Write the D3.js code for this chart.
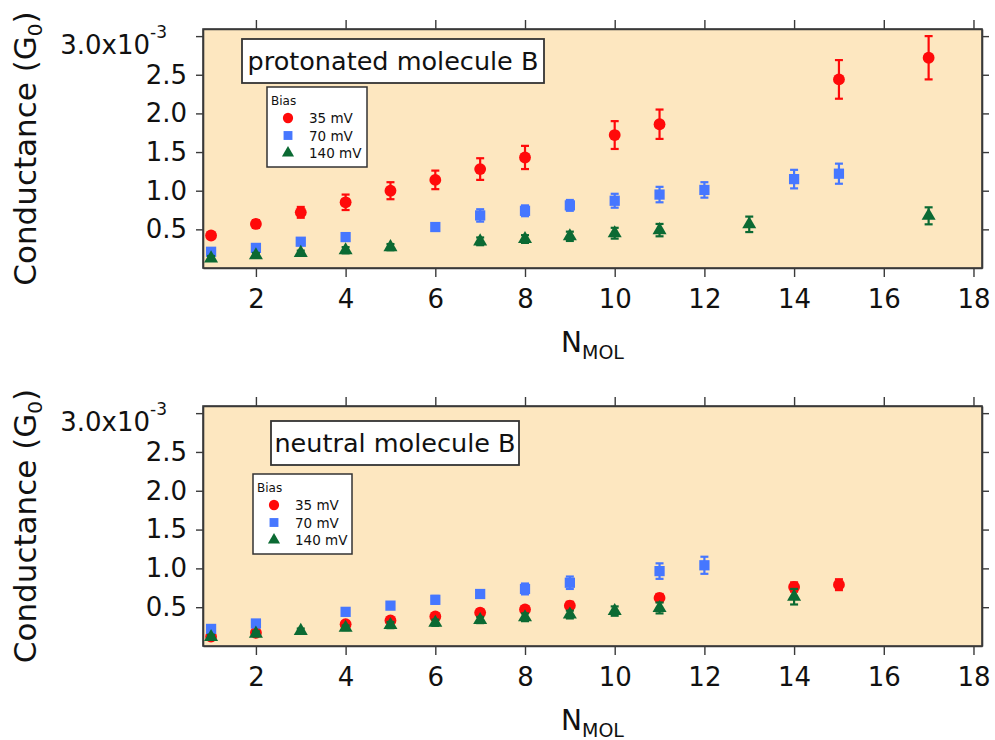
<!DOCTYPE html>
<html><head><meta charset="utf-8">
<script src="https://cdn.jsdelivr.net/npm/d3@7"></script>
<style>body{margin:0;background:#fff}svg{display:block}text{font-family:"DejaVu Sans",sans-serif}</style>
</head><body><svg id="c" width="995" height="740"></svg>
<script>
// ---- data (conductance in units of 1e-3 G0) ----
const xTicks = [2,4,6,8,10,12,14,16,18];
const yTicks = [0.5,1.0,1.5,2.0,2.5,3.0];
const seriesNames = ["35 mV","70 mV","140 mV"];
const panelTitles = ["protonated molecule B","neutral molecule B"];

const topRedX = [1,2,3,4,5,6,7,8,10,11,15,17];
const topRedY = [0.42,0.57,0.72,0.85,1.0,1.14,1.28,1.43,1.72,1.86,2.44,2.72];
const topRedErr = [0.03,0.05,0.07,0.10,0.11,0.12,0.14,0.15,0.18,0.19,0.25,0.28];

const topBlueX = [1,2,3,4,6,7,8,9,10,11,12,14,15];
const topBlueY = [0.21,0.26,0.34,0.40,0.53,0.68,0.74,0.81,0.87,0.95,1.01,1.15,1.22];
const topBlueErr = [0.03,0.03,0.03,0.03,0.04,0.08,0.07,0.07,0.09,0.10,0.10,0.12,0.13];

const topGreenX = [1,2,3,4,5,7,8,9,10,11,13,17];
const topGreenY = [0.125,0.165,0.195,0.23,0.27,0.345,0.375,0.41,0.45,0.49,0.565,0.675];
const topGreenErr = [0.03,0.03,0.03,0.04,0.04,0.05,0.05,0.06,0.07,0.08,0.10,0.11];

const botRedX = [1,2,4,5,6,7,8,9,11,14,15];
const botRedY = [0.12,0.17,0.28,0.33,0.38,0.43,0.47,0.52,0.62,0.76,0.79];
const botRedErr = [0.02,0.03,0.03,0.03,0.04,0.04,0.04,0.05,0.05,0.06,0.07];

const botBlueX = [1,2,4,5,6,7,8,9,11,12];
const botBlueY = [0.22,0.29,0.44,0.52,0.595,0.67,0.735,0.815,0.965,1.04];
const botBlueErr = [0.03,0.03,0.04,0.04,0.05,0.05,0.07,0.08,0.10,0.11];

const botGreenX = [1,2,3,4,5,6,7,8,9,10,11,14];
const botGreenY = [0.115,0.16,0.195,0.235,0.27,0.30,0.335,0.37,0.405,0.45,0.49,0.635];
const botGreenErr = [0.03,0.03,0.03,0.03,0.04,0.04,0.04,0.05,0.05,0.06,0.07,0.10];

// ---- styling ----
const colors = ["#ff0a0a","#4677ff","#0b6a33"];
const shapes = [d3.symbolCircle, d3.symbolSquare, d3.symbolTriangle];
const sizes = [110, 105, 85];
const bg = "#fde7c0";
const axisColor = "#3a3a3a";

const svg = d3.select("#c");

function zip(xs, ys, es){ return xs.map((x,i)=>({x:x, y:ys[i], e:es[i]})); }

const panels = [
  {top:29, bottom:268, series:[zip(topRedX,topRedY,topRedErr),zip(topBlueX,topBlueY,topBlueErr),zip(topGreenX,topGreenY,topGreenErr)],
   title:panelTitles[0], titleBox:[242,39,302,44], legend:[267,87,100,80]},
  {top:406, bottom:646, series:[zip(botRedX,botRedY,botRedErr),zip(botBlueX,botBlueY,botBlueErr),zip(botGreenX,botGreenY,botGreenErr)],
   title:panelTitles[1], titleBox:[271,421,248,44], legend:[253,474,99,80]}
];
const L = 203, R = 982;

panels.forEach(p => {
  const x = d3.scaleLinear().domain([0.82,18.19]).range([L,R]);
  const y = d3.scaleLinear().domain([0,3.092]).range([p.bottom,p.top]);
  const g = svg.append("g");

  g.append("rect").attr("x",L).attr("y",p.top).attr("width",R-L).attr("height",p.bottom-p.top)
    .attr("fill",bg);

  const styleAxis = sel => {
    sel.select(".domain").attr("stroke",axisColor).attr("stroke-width",1.6);
    sel.selectAll(".tick line").attr("stroke",axisColor).attr("stroke-width",1.4);
    sel.selectAll("text").attr("fill","#111").style("font-family","DejaVu Sans").attr("font-size",26);
  };

  g.append("g").attr("transform",`translate(0,${p.bottom})`)
    .call(d3.axisBottom(x).tickValues(xTicks).tickSize(9).tickSizeOuter(0).tickPadding(13).tickFormat(d3.format("d")))
    .call(styleAxis);
  g.append("g").attr("transform",`translate(0,${p.top})`)
    .call(d3.axisTop(x).tickValues(xTicks).tickSize(9).tickSizeOuter(0).tickFormat(""))
    .call(styleAxis);
  g.append("g").attr("transform",`translate(${R},0)`)
    .call(d3.axisRight(y).tickValues(yTicks).tickSize(7).tickSizeOuter(0).tickFormat(""))
    .call(styleAxis);
  const ya = g.append("g").attr("transform",`translate(${L},0)`)
    .call(d3.axisLeft(y).tickValues(yTicks).tickSize(7).tickSizeOuter(0).tickPadding(9).tickFormat(d=>d.toFixed(1)))
    .call(styleAxis);
  ya.selectAll(".tick text").filter(d=>d===3.0).each(function(){
    const t = d3.select(this);
    t.text("3.0x10").attr("x",-36).attr("dy","0.66em");
    t.append("tspan").text("-3").attr("font-size",17).attr("dy","-0.95em");
  });

  // axis titles
  const xt = g.append("text").attr("x",(L+R)/2).attr("y",p.bottom+84).attr("text-anchor","middle")
    .attr("fill","#111").attr("font-size",28);
  xt.append("tspan").text("N");
  xt.append("tspan").text("MOL").attr("font-size",19).attr("dy",7);

  const yt = g.append("text").attr("transform",`translate(36,${(p.top+p.bottom)/2}) rotate(-90)`)
    .attr("text-anchor","middle").attr("fill","#111").attr("font-size",31);
  yt.append("tspan").text("Conductance (G");
  yt.append("tspan").text("0").attr("font-size",20).attr("dy",6);
  yt.append("tspan").text(")").attr("dy",-6);

  // title box
  const tb = p.titleBox;
  g.append("rect").attr("x",tb[0]).attr("y",tb[1]).attr("width",tb[2]).attr("height",tb[3])
    .attr("fill","#fff").attr("stroke","#333").attr("stroke-width",1.8);
  g.append("text").attr("x",tb[0]+tb[2]/2).attr("y",tb[1]+tb[3]/2+9).attr("text-anchor","middle")
    .attr("fill","#111").attr("font-size",25.5).text(p.title);

  // legend
  const lg = p.legend;
  g.append("rect").attr("x",lg[0]).attr("y",lg[1]).attr("width",lg[2]).attr("height",lg[3])
    .attr("fill","#fff").attr("stroke","#333").attr("stroke-width",1.5);
  g.append("text").attr("x",lg[0]+4).attr("y",lg[1]+18).attr("font-size",12).attr("fill","#111").text("Bias");
  seriesNames.forEach((nm,i)=>{
    const yy = lg[1]+31+i*17.5;
    g.append("path").attr("d",d3.symbol().type(shapes[i]).size(sizes[i]*0.75)())
      .attr("transform",`translate(${lg[0]+21},${yy})`).attr("fill",colors[i]);
    g.append("text").attr("x",lg[0]+42).attr("y",yy+5).attr("font-size",13.5).attr("fill","#111").text(nm);
  });

  // series
  p.series.forEach((data,i)=>{
    const sg = g.append("g");
    const eb = sg.selectAll("g.eb").data(data).join("g").attr("stroke",colors[i]).attr("stroke-width",2.2);
    eb.append("line").attr("x1",d=>x(d.x)).attr("x2",d=>x(d.x)).attr("y1",d=>y(d.y-d.e)).attr("y2",d=>y(d.y+d.e));
    eb.append("line").attr("x1",d=>x(d.x)-4).attr("x2",d=>x(d.x)+4).attr("y1",d=>y(d.y-d.e)).attr("y2",d=>y(d.y-d.e));
    eb.append("line").attr("x1",d=>x(d.x)-4).attr("x2",d=>x(d.x)+4).attr("y1",d=>y(d.y+d.e)).attr("y2",d=>y(d.y+d.e));
    sg.selectAll("path.m").data(data).join("path").attr("class","m")
      .attr("d",d3.symbol().type(shapes[i]).size(sizes[i])())
      .attr("transform",d=>`translate(${x(d.x)},${y(d.y)})`).attr("fill",colors[i]);
  });

  // frame on top
  g.append("rect").attr("x",L).attr("y",p.top).attr("width",R-L).attr("height",p.bottom-p.top)
    .attr("fill","none").attr("stroke",axisColor).attr("stroke-width",1.6);
});
</script></body></html>
